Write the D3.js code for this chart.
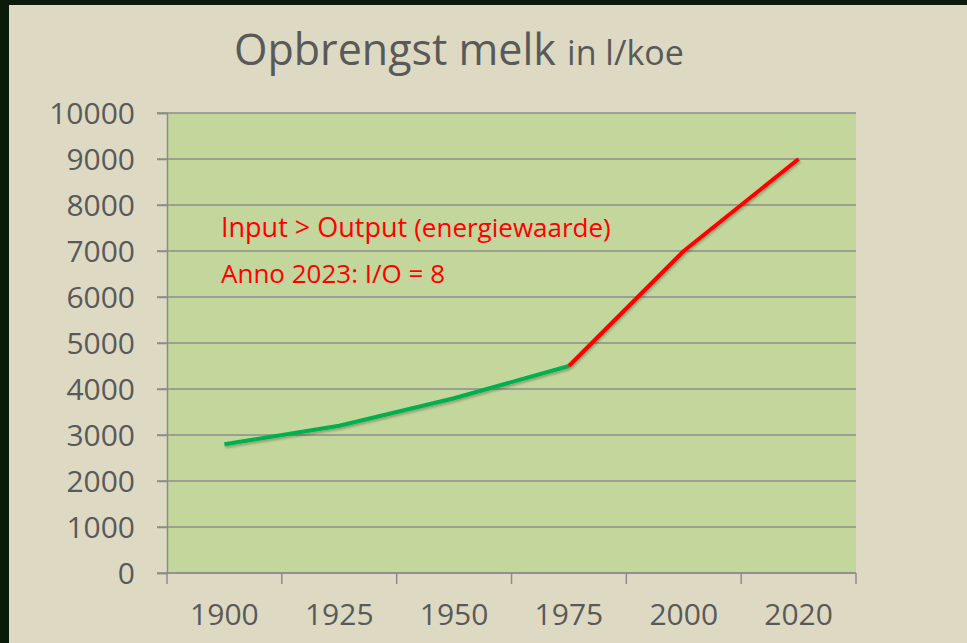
<!DOCTYPE html>
<html>
<head>
<meta charset="utf-8">
<script src="https://cdn.jsdelivr.net/npm/d3@7"></script>
<style>
  html, body { margin: 0; padding: 0; background: #0b1b0b; }
  svg { display: block; }
</style>
</head>
<body>
<svg id="chart" width="967" height="643"></svg>
<script>
const years = ["1900", "1925", "1950", "1975", "2000", "2020"];
const milk = [2800, 3200, 3800, 4500, 7000, 9000];
const yTicks = [0, 1000, 2000, 3000, 4000, 5000, 6000, 7000, 8000, 9000, 10000];
// index where the line turns from green to red
const splitAt = 3;

const svg = d3.select("#chart");
const width = 967;
const height = 643;
const margin = { top: 113, right: 111, bottom: 70, left: 167 };
const innerWidth = width - margin.left - margin.right;
const innerHeight = height - margin.top - margin.bottom;
const font = "'Open Sans', 'Noto Sans', sans-serif";
const grey = "#595959";

// slide background
svg.append("rect").attr("x", 9).attr("y", 5).attr("width", width - 9).attr("height", height - 5)
    .attr("fill", "#ddd9c3");

const defs = svg.append("defs");
const shadow = defs.append("filter").attr("id", "shadow").attr("x", "-10%").attr("y", "-10%")
    .attr("width", "120%").attr("height", "130%");
shadow.append("feDropShadow").attr("dx", 1).attr("dy", 2).attr("stdDeviation", 1.2)
    .attr("flood-color", "#000").attr("flood-opacity", 0.25);

const g = svg.append("g").attr("transform", `translate(${margin.left},${margin.top})`);

const xScale = d3.scaleBand().domain(years).range([0, innerWidth]);
const yScale = d3.scaleLinear().domain([0, 10000]).range([innerHeight, 0]);

g.append("rect").attr("width", innerWidth).attr("height", innerHeight).attr("fill", "#c3d69b");

// gridlines + left ticks
g.selectAll(".grid").data(yTicks).enter().append("line")
    .attr("class", "grid")
    .attr("x1", -10).attr("x2", innerWidth)
    .attr("y1", d => yScale(d)).attr("y2", d => yScale(d))
    .attr("stroke", "#8c8c8c").attr("stroke-width", 1.5);

const yAxis = d3.axisLeft(yScale).tickValues(yTicks).tickFormat(d3.format("d")).tickSize(10).tickPadding(22);
const yAxisGroup = g.append("g").call(yAxis);
yAxisGroup.select(".domain").attr("stroke", "#8c8c8c").attr("stroke-width", 1.5);
yAxisGroup.selectAll(".tick line").attr("stroke", "#8c8c8c").attr("stroke-width", 1.5);
yAxisGroup.selectAll("text").attr("fill", grey).style("font-family", font).style("font-size", "30px")
    .attr("dy", "0.36em");

// x axis: ticks between categories
const xAxisGroup = g.append("g").attr("transform", `translate(0,${innerHeight})`);
xAxisGroup.append("line").attr("x1", 0).attr("x2", innerWidth)
    .attr("stroke", "#8c8c8c").attr("stroke-width", 1.5);
const bounds = years.map(d => xScale(d)).concat([innerWidth]);
xAxisGroup.selectAll(".xtick").data(bounds).enter().append("line")
    .attr("x1", d => d).attr("x2", d => d).attr("y1", 0).attr("y2", 11)
    .attr("stroke", "#8c8c8c").attr("stroke-width", 1.5);
xAxisGroup.selectAll(".xlabel").data(years).enter().append("text")
    .attr("x", d => xScale(d) + xScale.bandwidth() / 2)
    .attr("y", 52)
    .attr("text-anchor", "middle")
    .attr("fill", grey).style("font-family", font).style("font-size", "30px")
    .text(d => d);

// line
const points = years.map((y, i) => ({ year: y, value: milk[i] }));
const line = d3.line()
    .x(d => xScale(d.year) + xScale.bandwidth() / 2)
    .y(d => yScale(d.value));

g.append("path").datum(points.slice(0, splitAt + 1))
    .attr("fill", "none").attr("stroke", "#00b050").attr("stroke-width", 4)
    .attr("stroke-linejoin", "round")
    .attr("filter", "url(#shadow)")
    .attr("d", line);
g.append("path").datum(points.slice(splitAt))
    .attr("fill", "none").attr("stroke", "#ff0000").attr("stroke-width", 4)
    .attr("stroke-linejoin", "round")
    .attr("filter", "url(#shadow)")
    .attr("d", line);

// annotations
const note1 = svg.append("text").attr("x", 221).attr("y", 237)
    .attr("fill", "#ff0000").style("font-family", font).style("font-size", "27px");
note1.append("tspan").text("Input > Output ");
note1.append("tspan").style("font-size", "26px").text("(energiewaarde)");
svg.append("text").attr("x", 221).attr("y", 283)
    .attr("fill", "#ff0000").style("font-family", font).style("font-size", "26px")
    .text("Anno 2023: I/O = 8");

// title
const title = svg.append("text").attr("x", 234).attr("y", 65)
    .attr("fill", grey).style("font-family", font);
title.append("tspan").style("font-size", "43px").text("Opbrengst melk ");
title.append("tspan").style("font-size", "34px").text("in l/koe");
</script>
</body>
</html>
